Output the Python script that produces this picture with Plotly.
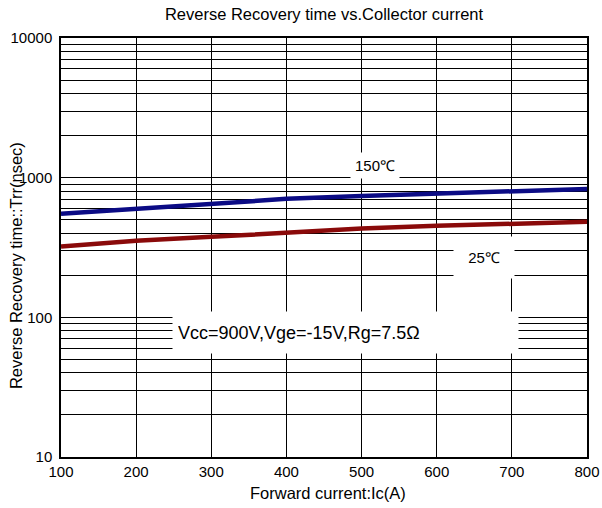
import plotly.graph_objects as go

current = [100, 200, 300, 400, 500, 600, 700, 800]
trr_150 = [551, 597, 649, 705, 740, 765, 803, 830]
trr_25 = [322, 353, 377, 405, 432, 452, 467, 483]

x_ticks = [100, 200, 300, 400, 500, 600, 700, 800]
y_major = [10, 100, 1000, 10000]

title = "Reverse Recovery time vs.Collector current"
x_title = "Forward current:Ic(A)"
y_title = "Reverse Recovery time::Trr(nsec)"
label_150 = "150℃"
label_25 = "25℃"
cond = "Vcc=900V,Vge=-15V,Rg=7.5Ω"

FONT = "Liberation Sans, Arial, sans-serif"

y_vals = []
y_text = []
for d in [10, 100, 1000]:
    for m in range(1, 10):
        y_vals.append(d * m)
        y_text.append(str(d) if m == 1 else "")
y_vals.append(10000)
y_text.append("10000")

fig = go.Figure()
fig.add_trace(go.Scatter(x=current, y=trr_150, mode="lines",
                         line=dict(color="#0b0b85", width=4.5), name="150"))
fig.add_trace(go.Scatter(x=current, y=trr_25, mode="lines",
                         line=dict(color="#8a0a0a", width=4.5), name="25"))

fig.update_layout(
    width=602, height=508,
    margin=dict(l=61, r=15, t=38, b=51),
    paper_bgcolor="white", plot_bgcolor="white",
    showlegend=False,
    font=dict(family=FONT, size=15, color="black"),
    title=dict(text=title, xref="paper", x=0.5, xanchor="center", y=0.972,
               yanchor="middle", font=dict(size=16.5, color="black")),
)
fig.update_xaxes(range=[100, 800], tickvals=x_ticks, ticks="", showgrid=True,
                 gridcolor="black", gridwidth=1, showline=True, linecolor="black",
                 linewidth=1.5, mirror=True, zeroline=False, automargin=False,
                 tickfont=dict(size=15))
fig.update_yaxes(type="log", range=[1, 4], tickvals=y_vals, ticktext=y_text,
                 ticks="", showgrid=True, gridcolor="black", gridwidth=1,
                 showline=True, linecolor="black", linewidth=1.5, mirror=True,
                 zeroline=False, automargin=False, tickfont=dict(size=15),
                 ticklabelstandoff=4)

fig.add_annotation(text=y_title, xref="paper", yref="paper", x=-0.0856, y=0.458,
                   textangle=-90, showarrow=False, xanchor="center", yanchor="middle",
                   font=dict(size=16.5, color="black"))
fig.add_annotation(text=x_title, xref="paper", yref="paper", x=0.507, y=-0.086,
                   showarrow=False, xanchor="center", yanchor="middle",
                   font=dict(size=16.5, color="black"))
fig.add_annotation(text=label_150, x=518, y=3.086, xref="x", yref="y",
                   showarrow=False, bgcolor="white", font=dict(size=15),
                   borderpad=4)
fig.add_annotation(text=label_25, x=663, y=2.43, xref="x", yref="y",
                   showarrow=False, bgcolor="white", font=dict(size=15),
                   width=36, borderpad=12)
fig.add_annotation(text=cond, x=247.7, y=1.889, xref="x", yref="y", xanchor="left",
                   showarrow=False, bgcolor="white", font=dict(size=18),
                   width=335, height=31, align="left", borderpad=5)

fig.write_html("out.html")
